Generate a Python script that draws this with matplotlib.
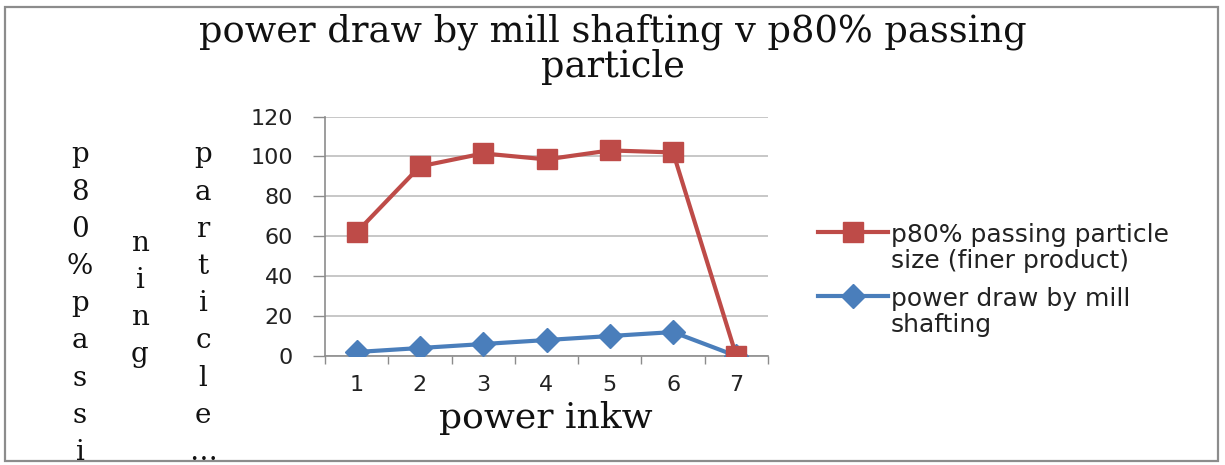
import matplotlib
matplotlib.use("Agg")
import matplotlib.pyplot as plt
from matplotlib.patches import Rectangle

# ---- data ----
categories = ["1", "2", "3", "4", "5", "6", "7"]
p80_passing = [62, 95, 101.5, 98.5, 103, 102, 0]
power_draw = [2, 4, 6, 8, 10, 12, 0]
series_labels = ["p80% passing particle\nsize (finer product)",
                 "power draw by mill\nshafting"]
title_lines = ["power draw by mill shafting v p80% passing", "particle"]
x_label = "power inkw"
y_label_columns = ["p80%passi", "ning", "particle\u2026"]
y_ticks = [0, 20, 40, 60, 80, 100, 120]

RED = "#BE4B48"
BLUE = "#4A7EBB"
SERIF = "DejaVu Serif"
SANS = "DejaVu Sans"

W, H = 1225, 465
fig = plt.figure(figsize=(W / 100, H / 100), dpi=100)

# outer chart border
fig.patches.append(Rectangle((5 / W, 1 - 461 / H), (1218 - 5) / W, (461 - 7) / H,
                             transform=fig.transFigure, fill=False,
                             edgecolor="#8C8C8C", linewidth=1.6))

ax = fig.add_axes([325 / W, 1 - 356 / H, (768 - 325) / W, (356 - 116.5) / H])
x = list(range(1, len(categories) + 1))

ax.plot(x, p80_passing, color=RED, lw=3, marker="s", markersize=15,
        markerfacecolor=RED, markeredgecolor=RED, label=series_labels[0], zorder=4)
ax.plot(x, power_draw, color=BLUE, lw=3, marker="D", markersize=12,
        markerfacecolor=BLUE, markeredgecolor=BLUE, label=series_labels[1], zorder=3)

ax.set_xlim(0.5, len(categories) + 0.5)
ax.set_ylim(0, 120)
ax.set_yticks(y_ticks)
ax.set_yticklabels([str(v) for v in y_ticks], fontsize=16, family=SANS, color="#222222")
ax.set_xticks(x)
ax.set_xticklabels(categories, fontsize=16, family=SANS, color="#222222")
ax.set_xticks([i + 0.5 for i in range(0, len(categories) + 1)], minor=True)
ax.tick_params(axis="x", which="major", length=0, pad=14)
ax.tick_params(axis="x", which="minor", length=6, color="#8C8C8C", width=1)
ax.tick_params(axis="y", which="major", length=9, color="#8C8C8C", width=1, pad=14)
ax.tick_params(axis="y", which="minor", length=0)

ax.grid(axis="y", color="#BDBDBD", linewidth=1.2)
ax.set_axisbelow(True)
for s in ["top", "right"]:
    ax.spines[s].set_visible(False)
for s in ["left", "bottom"]:
    ax.spines[s].set_color("#8C8C8C")
    ax.spines[s].set_linewidth(1.2)

# title
fig.text(613 / W, 1 - 32 / H, title_lines[0], ha="center", va="center",
         family=SERIF, fontsize=26.5, color="#111111")
fig.text(613 / W, 1 - 67 / H, title_lines[1], ha="center", va="center",
         family=SERIF, fontsize=26.5, color="#111111")

# x label
fig.text(546 / W, 1 - 418 / H, x_label, ha="center", va="center",
         family=SERIF, fontsize=26, color="#111111")

# stacked y-label columns
col_x = [80, 140, 203]
col_start = [155, 243, 155]
spacing = 37.2
for cx, cy0, txt in zip(col_x, col_start, y_label_columns):
    for i, ch in enumerate(txt):
        fig.text(cx / W, 1 - (cy0 + i * spacing) / H, ch, ha="center", va="center",
                 family=SERIF, fontsize=20, color="#111111")

leg = fig.legend(loc="upper left", bbox_to_anchor=(818 / W, 1 - 223 / H),
                 frameon=False, prop={"family": SANS, "size": 18},
                 handlelength=2.8, handletextpad=0.12, labelspacing=0.57,
                 borderpad=0, borderaxespad=0)
for t in leg.get_texts():
    t.set_color("#222222")
    t.set_linespacing(1.1)
# align each handle with the first line of its (two-line) label
for col in leg._legend_handle_box.get_children():
    for row in col.get_children():
        row.align = "top"

fig.savefig("out.png", dpi=100)
